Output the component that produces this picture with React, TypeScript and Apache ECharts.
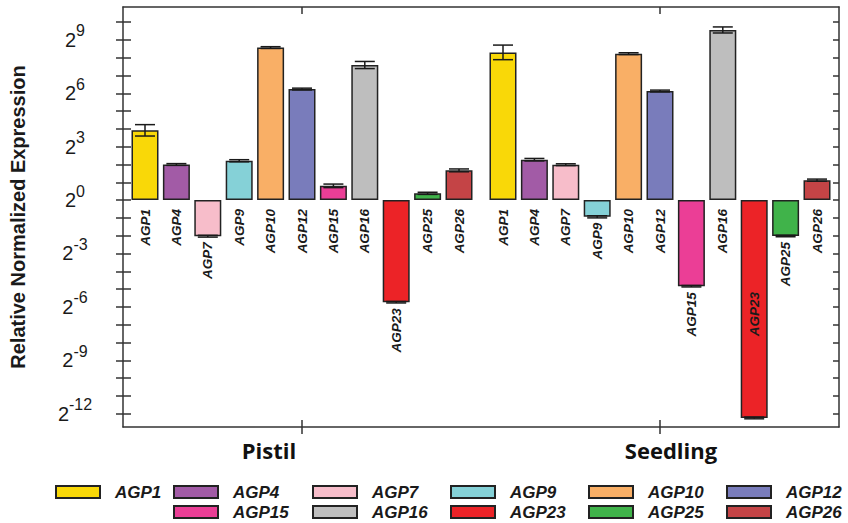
import React, { useEffect, useRef } from 'react';
import * as echarts from 'echarts';

const tissues = ['Pistil', 'Seedling'];
const genes = ['AGP1', 'AGP4', 'AGP7', 'AGP9', 'AGP10', 'AGP12', 'AGP15', 'AGP16', 'AGP23', 'AGP25', 'AGP26'];
const geneColors = ['#F9D808', '#A25BA6', '#F7BDCA', '#85D1D7', '#F9AF66', '#797CBB', '#EB3E96', '#BEBEBE', '#EC2327', '#40B34A', '#C44446'];
// log2 of relative normalized expression
const pistilLog2 = [3.92, 2.0, -2.03, 2.21, 8.57, 6.24, 0.8, 7.59, -5.74, 0.38, 1.67];
const pistilErr = [0.32, 0.05, 0.05, 0.06, 0.05, 0.05, 0.1, 0.2, 0.04, 0.06, 0.08];
const seedlingLog2 = [8.3, 2.27, 1.99, -0.94, 8.23, 6.13, -4.84, 9.56, -12.24, -2.02, 1.12];
const seedlingErr = [0.41, 0.07, 0.05, 0.06, 0.05, 0.05, 0.04, 0.17, 0.05, 0.04, 0.06];
const yTickExponents = [-12, -11, -10, -9, -8, -7, -6, -5, -4, -3, -2, -1, 0, 1, 2, 3, 4, 5, 6, 7, 8, 9, 10];
const yLabelExponents = [-12, -9, -6, -3, 0, 3, 6, 9];
// legend columns (top row / bottom row)
const legendColumns = [
  ['AGP1'],
  ['AGP4', 'AGP15'],
  ['AGP7', 'AGP16'],
  ['AGP9', 'AGP23'],
  ['AGP10', 'AGP25'],
  ['AGP12', 'AGP26'],
];

const LEGEND_LEFTS = [55, 173, 312, 450, 588, 726];
const Y_MIN = -12.75;
const Y_MAX = 10.85;
const BAR_W = 27;
const BAR_STEP = 31.4;
const CAP_W = 20;
const AXIS_COLOR = '#333';
const TEXT_COLOR = '#1a1a1a';

export default function App() {
  const ref = useRef<HTMLDivElement>(null);

  useEffect(() => {
    if (!ref.current) return;
    const chart = echarts.init(ref.current, undefined, { renderer: 'svg' });

    const values = [pistilLog2, seedlingLog2];
    const errs = [pistilErr, seedlingErr];

    const barSeries = genes.map((g, i) => ({
      type: 'bar',
      name: g,
      xAxisIndex: 0,
      yAxisIndex: 0,
      z: 2,
      barWidth: BAR_W,
      barGap: ((BAR_STEP - BAR_W) / BAR_W * 100).toFixed(2) + '%',
      data: [pistilLog2[i], seedlingLog2[i]],
      itemStyle: { color: geneColors[i], borderColor: '#222', borderWidth: 1.5 },
      silent: true,
    }));

    const customData: number[][] = [];
    for (let c = 0; c < tissues.length; c++) {
      for (let gi = 0; gi < genes.length; gi++) {
        customData.push([c, gi, values[c][gi], errs[c][gi]]);
      }
    }

    const labelFont = {
      fontSize: 13.5,
      fontWeight: 'bold',
      fontStyle: 'italic',
      fontFamily: '"Liberation Sans", Arial, sans-serif',
      fill: TEXT_COLOR,
    };

    const customSeries = {
      type: 'custom',
      name: 'errors',
      xAxisIndex: 0,
      yAxisIndex: 0,
      z: 10,
      clip: false,
      silent: true,
      encode: { x: 0, y: 2 },
      data: customData,
      renderItem: (params: any, api: any) => {
        const cat = api.value(0);
        const gi = api.value(1);
        const v = api.value(2);
        const e = api.value(3);
        const base = api.coord([cat, 0]);
        const cx = base[0] + (gi - 5) * BAR_STEP;
        const y0 = base[1];
        const yv = api.coord([cat, v])[1];
        const yHi = api.coord([cat, v + e])[1];
        const yLo = api.coord([cat, v - e])[1];
        const yBottom = api.coord([cat, Y_MIN])[1];
        const half = CAP_W / 2;
        const ls = { stroke: '#1a1a1a', lineWidth: 1.5 };
        const children: any[] = [
          { type: 'line', shape: { x1: cx, y1: yHi, x2: cx, y2: yLo }, style: ls },
          { type: 'line', shape: { x1: cx - half, y1: yHi, x2: cx + half, y2: yHi }, style: ls },
          { type: 'line', shape: { x1: cx - half, y1: yLo, x2: cx + half, y2: yLo }, style: ls },
        ];
        const labelTop = v >= 0 ? y0 + 9 : yv + 6;
        const inside = labelTop + 50 > yBottom;
        children.push({
          type: 'text',
          x: cx,
          y: inside ? (y0 + yv) / 2 + 5 : labelTop,
          rotation: Math.PI / 2,
          z2: 10,
          style: {
            ...labelFont,
            text: genes[gi],
            align: inside ? 'center' : 'right',
            verticalAlign: 'middle',
          },
        });
        return { type: 'group', children };
      },
    };

    const legends = legendColumns.map((col, k) => ({
      orient: 'vertical',
      left: LEGEND_LEFTS[k],
      top: 482,
      padding: 0,
      itemWidth: 44,
      itemHeight: 12,
      itemGap: 0,
      icon: 'rect',
      selectedMode: false,
      data: col,
      textStyle: {
        fontFamily: '"Liberation Sans", Arial, sans-serif',
        fontStyle: 'italic',
        fontWeight: 'bold',
        fontSize: 17,
        lineHeight: 20,
        color: TEXT_COLOR,
        padding: [0, 0, 0, 10],
      },
    }));

    const yCommon = {
      type: 'value',
      min: Y_MIN,
      max: Y_MAX,
      splitLine: { show: false },
    };

    const tickStyle = { color: AXIS_COLOR, width: 1.5 };

    const option: any = {
      animation: false,
      backgroundColor: '#ffffff',
      grid: { left: 119, right: 9, top: 7, bottom: 96, containLabel: false },
      legend: legends,
      xAxis: [
        {
          type: 'category',
          data: tissues,
          position: 'bottom',
          axisLine: { show: true, onZero: false, lineStyle: tickStyle },
          axisTick: { show: true, alignWithLabel: true, inside: false, length: 7, lineStyle: tickStyle },
          axisLabel: {
            show: true,
            margin: 12,
            formatter: (v: string) => (v === tissues[0] ? `{p|${v}}` : `{s|${v}}`),
            rich: {
              p: { fontFamily: '"Open Sans", sans-serif', fontWeight: 'bold', fontSize: 22, color: '#111', padding: [0, 66, 0, 0] },
              s: { fontFamily: '"Open Sans", sans-serif', fontWeight: 'bold', fontSize: 22, color: '#111', padding: [0, 0, 0, 22] },
            },
          },
          splitLine: { show: false },
        },
        {
          type: 'category',
          data: tissues,
          position: 'bottom',
          axisLine: { show: false, onZero: false },
          axisTick: { show: true, alignWithLabel: true, inside: true, length: 7, lineStyle: tickStyle },
          axisLabel: { show: false },
          splitLine: { show: false },
        },
        {
          type: 'category',
          data: tissues,
          position: 'top',
          axisLine: { show: true, onZero: false, lineStyle: tickStyle },
          axisTick: { show: true, alignWithLabel: true, inside: true, length: 7, lineStyle: tickStyle },
          axisLabel: { show: false },
          splitLine: { show: false },
        },
      ],
      yAxis: [
        {
          ...yCommon,
          position: 'left',
          name: 'Relative Normalized Expression',
          nameLocation: 'middle',
          nameGap: 95,
          nameTextStyle: { fontFamily: '"Liberation Sans", Arial, sans-serif', fontWeight: 'bold', fontSize: 20, color: TEXT_COLOR },
          axisLine: { show: true, onZero: false, lineStyle: tickStyle },
          axisTick: { show: true, inside: false, length: 7, customValues: yTickExponents, lineStyle: tickStyle },
          axisLabel: {
            show: true,
            customValues: yLabelExponents,
            margin: 48,
            align: 'center',
            formatter: (v: number) => `{b|2}{s|${v}}`,
            rich: {
              b: { fontFamily: '"Liberation Sans", Arial, sans-serif', fontSize: 20, color: TEXT_COLOR, lineHeight: 34 },
              s: { fontFamily: '"Liberation Sans", Arial, sans-serif', fontSize: 16, color: TEXT_COLOR, lineHeight: 16, verticalAlign: 'top' },
            },
          },
        },
        {
          ...yCommon,
          position: 'left',
          axisLine: { show: false, onZero: false },
          axisTick: { show: true, inside: true, length: 8, customValues: yTickExponents, lineStyle: tickStyle },
          axisLabel: { show: false },
        },
        {
          ...yCommon,
          position: 'right',
          axisLine: { show: true, onZero: false, lineStyle: tickStyle },
          axisTick: { show: true, inside: true, length: 6, customValues: yTickExponents, lineStyle: tickStyle },
          axisLabel: { show: false },
        },
      ],
      series: [...barSeries, customSeries],
    };

    chart.setOption(option);
    return () => {
      chart.dispose();
    };
  }, []);

  return (
    <div
      ref={ref}
      style={{ position: 'fixed', left: 0, top: 0, width: 848, height: 523, background: '#fff' }}
    />
  );
}
